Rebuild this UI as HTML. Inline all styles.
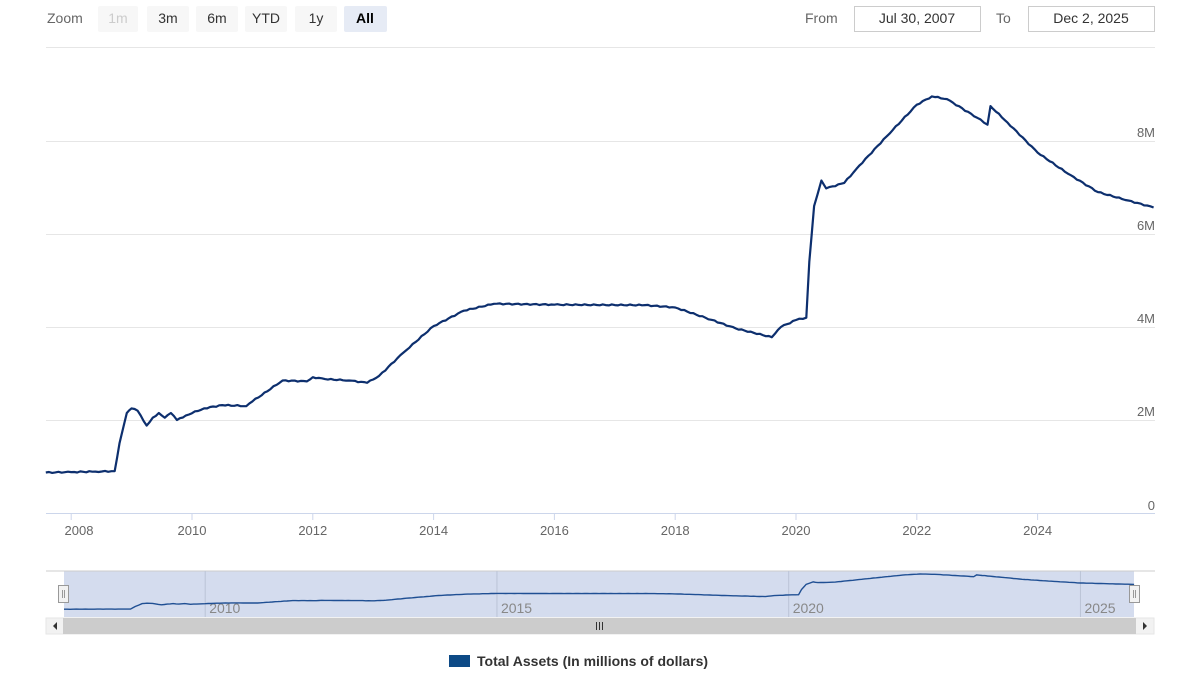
<!DOCTYPE html>
<html><head><meta charset="utf-8"><style>
body{margin:0;width:1200px;height:675px;background:#fff;font-family:"Liberation Sans",sans-serif;overflow:hidden}
svg text{font-family:"Liberation Sans",sans-serif}
</style></head><body>
<svg id="s" width="1200" height="675" xmlns="http://www.w3.org/2000/svg">
<text x="47" y="23" font-size="14" fill="#666">Zoom</text>
<rect x="98" y="6" width="40" height="26" rx="2" fill="#f7f7f7"/><text x="118" y="23" font-size="14" fill="#ccc" text-anchor="middle">1m</text>
<rect x="147" y="6" width="42" height="26" rx="2" fill="#f7f7f7"/><text x="168" y="23" font-size="14" fill="#333" text-anchor="middle">3m</text>
<rect x="196" y="6" width="42" height="26" rx="2" fill="#f7f7f7"/><text x="217" y="23" font-size="14" fill="#333" text-anchor="middle">6m</text>
<rect x="245" y="6" width="42" height="26" rx="2" fill="#f7f7f7"/><text x="266" y="23" font-size="14" fill="#333" text-anchor="middle">YTD</text>
<rect x="295" y="6" width="42" height="26" rx="2" fill="#f7f7f7"/><text x="316" y="23" font-size="14" fill="#333" text-anchor="middle">1y</text>
<rect x="344" y="6" width="43" height="26" rx="2" fill="#e6ebf5"/><text x="365" y="23" font-size="14" fill="#000" font-weight="bold" text-anchor="middle">All</text>
<text x="805" y="23" font-size="14" fill="#666">From</text>
<rect x="854.5" y="6.5" width="126" height="25" fill="#fff" stroke="#ccc"/><text x="917" y="23" font-size="14" fill="#333" text-anchor="middle">Jul 30, 2007</text>
<text x="996" y="23" font-size="14" fill="#666">To</text>
<rect x="1028.5" y="6.5" width="126" height="25" fill="#fff" stroke="#ccc"/><text x="1091" y="23" font-size="14" fill="#333" text-anchor="middle">Dec 2, 2025</text>
<g stroke="#e6e6e6" stroke-width="1">
<line x1="46" x2="1155" y1="47.5" y2="47.5"/><line x1="46" x2="1155" y1="141.5" y2="141.5"/><line x1="46" x2="1155" y1="234.5" y2="234.5"/><line x1="46" x2="1155" y1="327.5" y2="327.5"/><line x1="46" x2="1155" y1="420.5" y2="420.5"/></g>
<line x1="46" x2="1155" y1="513.5" y2="513.5" stroke="#ccd6eb"/>
<g font-size="13" fill="#666" text-anchor="end">
<text x="1155" y="137">8M</text><text x="1155" y="230">6M</text><text x="1155" y="323">4M</text><text x="1155" y="416">2M</text><text x="1155" y="510">0</text></g>
<g font-size="13" fill="#666" text-anchor="middle" id="xl"></g>
<g stroke="#ccd6eb" id="xt"></g>
<path id="main" fill="none" stroke="#0d2f6e" stroke-width="2.2" stroke-linejoin="round"/>
<rect x="46" y="571" width="1108" height="46" fill="#fff"/>
<rect x="64" y="571" width="1070" height="46" fill="#ccd6eb" opacity="0.85"/>
<line x1="46" x2="1155" y1="571" y2="571" stroke="#ccc"/>
<g stroke="#bbc4d6" id="nt"></g>
<g font-size="13" fill="#888" id="nl"></g>
<path id="nav" fill="none" stroke="#1f4f93" stroke-width="1.4"/>
<rect x="58.5" y="585.5" width="10" height="17" fill="#f2f2f2" stroke="#999"/><line x1="62.5" x2="62.5" y1="590" y2="598" stroke="#999"/><line x1="64.5" x2="64.5" y1="590" y2="598" stroke="#999"/>
<rect x="1129.5" y="585.5" width="10" height="17" fill="#f2f2f2" stroke="#999"/><line x1="1133.5" x2="1133.5" y1="590" y2="598" stroke="#999"/><line x1="1135.5" x2="1135.5" y1="590" y2="598" stroke="#999"/>
<rect x="46" y="618" width="1108" height="16" fill="#f2f2f2" stroke="#e6e6e6"/>
<rect x="63" y="618" width="1073" height="16" fill="#cccccc"/>
<path d="M57 622 L53 626 L57 630Z" fill="#333"/><path d="M1143 622 L1147 626 L1143 630Z" fill="#333"/>
<g stroke="#333"><line x1="596.5" x2="596.5" y1="622" y2="630"/><line x1="599.5" x2="599.5" y1="622" y2="630"/><line x1="602.5" x2="602.5" y1="622" y2="630"/></g>
<rect x="449" y="655" width="21" height="12" fill="#0d4a86"/>
<text x="477" y="666" font-size="14" font-weight="bold" fill="#333">Total Assets (In millions of dollars)</text>
</svg>
<script>
var d=[[2007.58,.87],[2008.0,.88],[2008.4,.89],[2008.72,.9],[2008.8,1.5],[2008.92,2.15],[2009.0,2.25],[2009.1,2.2],[2009.25,1.88],[2009.35,2.05],[2009.45,2.15],[2009.55,2.05],[2009.65,2.15],[2009.75,2.0],[2009.9,2.1],[2010.2,2.25],[2010.5,2.32],[2010.9,2.3],[2011.0,2.4],[2011.5,2.85],[2011.9,2.83],[2012.0,2.92],[2012.2,2.88],[2012.6,2.85],[2012.9,2.8],[2013.1,2.95],[2013.5,3.45],[2014.0,4.02],[2014.5,4.35],[2015.0,4.5],[2016.0,4.48],[2017.5,4.47],[2018.0,4.42],[2018.5,4.2],[2019.0,3.97],[2019.6,3.78],[2019.75,4.0],[2020.0,4.15],[2020.17,4.2],[2020.22,5.4],[2020.3,6.6],[2020.42,7.15],[2020.5,6.98],[2020.8,7.1],[2021.0,7.4],[2021.5,8.1],[2022.0,8.78],[2022.25,8.96],[2022.5,8.9],[2023.0,8.5],[2023.17,8.35],[2023.22,8.75],[2023.5,8.4],[2024.0,7.75],[2024.5,7.3],[2025.0,6.9],[2025.5,6.72],[2025.92,6.57]];
// densify with small noise
var dd=[];for(var i=0;i<d.length-1;i++){var a=d[i],b=d[i+1],n=Math.max(1,Math.round((b[0]-a[0])*20));for(var k=0;k<n;k++){var t=k/n;var v=a[1]+(b[1]-a[1])*t;if(k>0)v+=Math.sin(i*7.3+k*2.1)*0.012;dd.push([a[0]+(b[0]-a[0])*t,v]);}}dd.push(d[d.length-1]);
function mp(xf,yf){return dd.map(function(p,i){return (i?'L':'M')+xf(p[0]).toFixed(1)+' '+yf(p[1]).toFixed(1)}).join('')}
document.getElementById('main').setAttribute('d',mp(function(t){return 192+(t-2010)*60.4},function(v){return 513-v*46.5}));
document.getElementById('nav').setAttribute('d',mp(function(t){return 64+(t-2007.58)*58.35},function(v){return 613-v*4.35}));
var xl='',xt='';for(var y=2008;y<=2024;y+=2){var x=192+(y-2010)*60.4;xl+='<text x="'+(y==2008?79:x)+'" y="535">'+y+'</text>';xt+='<line x1="'+x+'" x2="'+x+'" y1="514" y2="520"/>';}
document.getElementById('xl').innerHTML=xl;document.getElementById('xt').innerHTML=xt;
var nt='',nl='';[2010,2015,2020,2025].forEach(function(y){var x=64+(y-2007.58)*58.35;nt+='<line x1="'+x+'" x2="'+x+'" y1="571" y2="617"/>';nl+='<text x="'+(x+4)+'" y="613" font-size="14">'+y+'</text>';});
document.getElementById('nt').innerHTML=nt;document.getElementById('nl').innerHTML=nl;
</script>
</body></html>
